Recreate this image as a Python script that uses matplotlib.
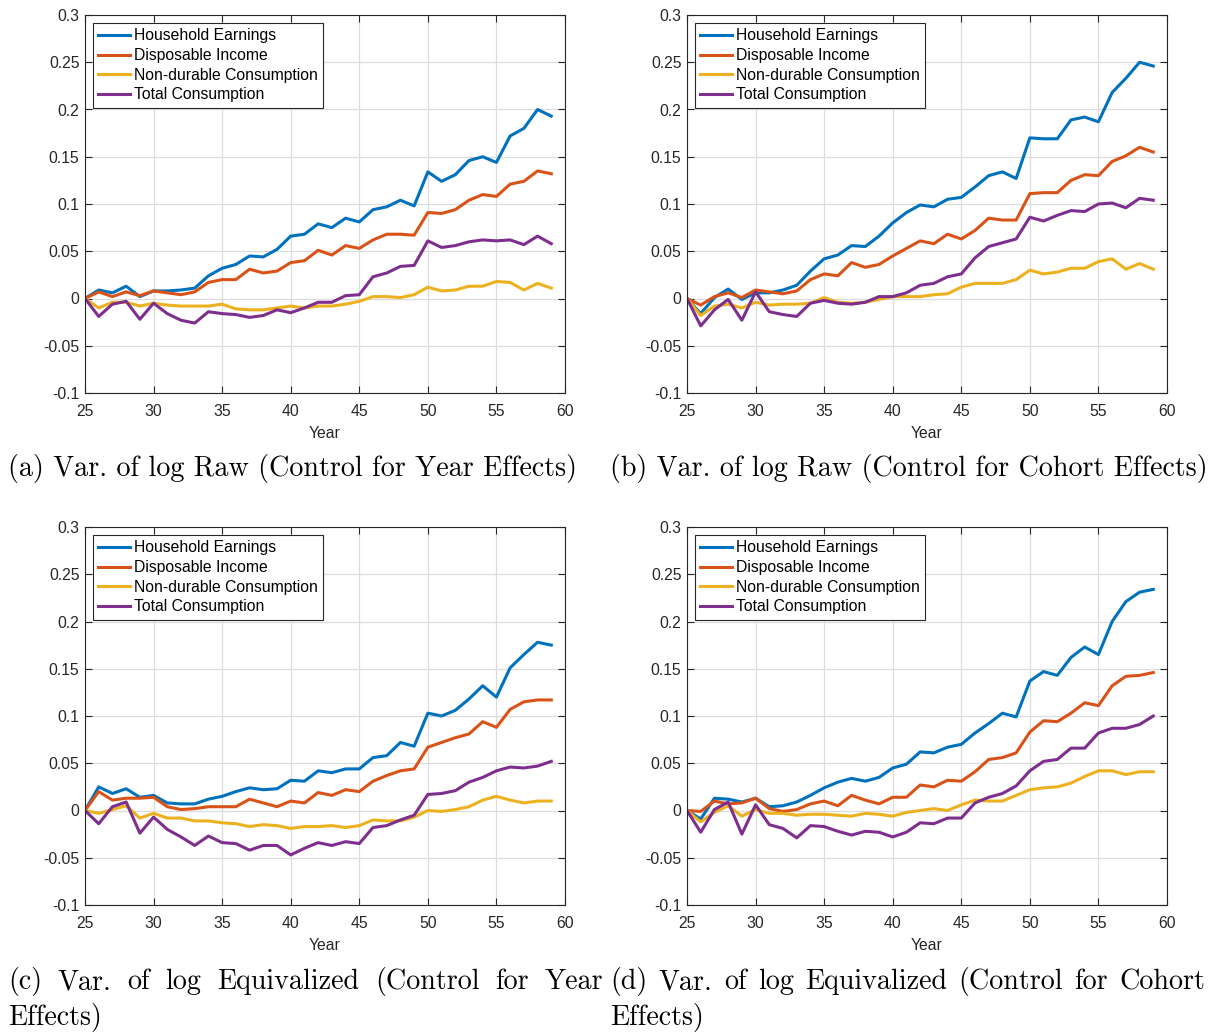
import matplotlib
matplotlib.use("Agg")
import matplotlib.pyplot as plt
import numpy as np

plt.rcParams['font.family'] = ['Liberation Sans', 'DejaVu Sans']
plt.rcParams['axes.unicode_minus'] = False

# age axis
years = np.arange(25, 60)

labels = ["Household Earnings", "Disposable Income", "Non-durable Consumption", "Total Consumption"]
colors = ['#0072BD', '#D95319', '#EDB120', '#7E2F8E']

# (a) raw, year effects
a_earn = [0, 0.009, 0.006, 0.013, 0.002, 0.008, 0.008, 0.009, 0.011, 0.024, 0.032, 0.036, 0.045, 0.044, 0.052,
          0.066, 0.068, 0.079, 0.075, 0.085, 0.081, 0.094, 0.097, 0.104, 0.098, 0.134, 0.124, 0.131, 0.146, 0.150,
          0.144, 0.172, 0.180, 0.200, 0.193]
a_disp = [0, 0.007, 0.002, 0.007, 0.003, 0.008, 0.006, 0.004, 0.007, 0.017, 0.020, 0.020, 0.031, 0.027, 0.029,
          0.038, 0.040, 0.051, 0.046, 0.056, 0.053, 0.062, 0.068, 0.068, 0.067, 0.091, 0.090, 0.094, 0.104, 0.110,
          0.108, 0.121, 0.124, 0.135, 0.132]
a_ndur = [0, -0.010, -0.004, -0.004, -0.008, -0.005, -0.007, -0.008, -0.008, -0.008, -0.006, -0.011, -0.012,
          -0.012, -0.010, -0.008, -0.010, -0.008, -0.008, -0.006, -0.003, 0.002, 0.002, 0.001, 0.004, 0.012, 0.008,
          0.009, 0.013, 0.013, 0.018, 0.017, 0.009, 0.016, 0.011]
a_tot = [0, -0.019, -0.006, -0.003, -0.022, -0.005, -0.016, -0.023, -0.026, -0.014, -0.016, -0.017, -0.020,
         -0.018, -0.012, -0.015, -0.010, -0.004, -0.004, 0.003, 0.004, 0.023, 0.027, 0.034, 0.035, 0.061, 0.054,
         0.056, 0.060, 0.062, 0.061, 0.062, 0.057, 0.066, 0.058]

# (b) raw, cohort effects
b_earn = [0, -0.016, 0.001, 0.010, -0.001, 0.006, 0.006, 0.009, 0.014, 0.029, 0.042, 0.046, 0.056, 0.055, 0.066,
          0.080, 0.091, 0.099, 0.097, 0.105, 0.107, 0.118, 0.130, 0.134, 0.127, 0.170, 0.169, 0.169, 0.189, 0.192,
          0.187, 0.218, 0.233, 0.250, 0.246]
b_disp = [0, -0.007, 0.002, 0.006, 0.001, 0.009, 0.007, 0.005, 0.008, 0.020, 0.026, 0.024, 0.038, 0.033, 0.036,
          0.045, 0.053, 0.061, 0.058, 0.068, 0.063, 0.072, 0.085, 0.083, 0.083, 0.111, 0.112, 0.112, 0.125, 0.131,
          0.130, 0.145, 0.151, 0.160, 0.155]
b_ndur = [0, -0.018, -0.008, -0.006, -0.010, -0.004, -0.007, -0.006, -0.006, -0.005, 0.001, -0.004, -0.005,
          -0.004, -0.001, 0.002, 0.002, 0.002, 0.004, 0.005, 0.012, 0.016, 0.016, 0.016, 0.020, 0.030, 0.026,
          0.028, 0.032, 0.032, 0.039, 0.042, 0.031, 0.037, 0.031]
b_tot = [0, -0.029, -0.012, -0.001, -0.023, 0.007, -0.014, -0.017, -0.019, -0.005, -0.002, -0.005, -0.006,
         -0.004, 0.002, 0.002, 0.006, 0.014, 0.016, 0.023, 0.026, 0.043, 0.055, 0.059, 0.063, 0.086, 0.082,
         0.088, 0.093, 0.092, 0.100, 0.101, 0.096, 0.106, 0.104]

# (c) equivalized, year effects
c_earn = [0, 0.025, 0.018, 0.023, 0.014, 0.016, 0.008, 0.007, 0.007, 0.012, 0.015, 0.020, 0.024, 0.022, 0.023,
          0.032, 0.031, 0.042, 0.040, 0.044, 0.044, 0.056, 0.058, 0.072, 0.068, 0.103, 0.100, 0.106, 0.118, 0.132,
          0.120, 0.151, 0.165, 0.178, 0.175]
c_disp = [0, 0.020, 0.011, 0.013, 0.013, 0.014, 0.004, 0.001, 0.002, 0.004, 0.004, 0.004, 0.012, 0.008, 0.004,
          0.010, 0.008, 0.019, 0.016, 0.022, 0.020, 0.031, 0.037, 0.042, 0.044, 0.067, 0.072, 0.077, 0.081, 0.094,
          0.088, 0.107, 0.115, 0.117, 0.117]
c_ndur = [0, -0.003, 0.001, 0.005, -0.008, -0.003, -0.008, -0.008, -0.011, -0.011, -0.013, -0.014, -0.017,
          -0.015, -0.016, -0.019, -0.017, -0.017, -0.016, -0.018, -0.016, -0.010, -0.011, -0.011, -0.007, 0.000,
          -0.001, 0.001, 0.004, 0.011, 0.015, 0.011, 0.008, 0.010, 0.010]
c_tot = [0, -0.014, 0.004, 0.009, -0.024, -0.007, -0.020, -0.028, -0.037, -0.027, -0.034, -0.035, -0.042,
         -0.037, -0.037, -0.047, -0.040, -0.034, -0.037, -0.033, -0.035, -0.018, -0.016, -0.010, -0.005, 0.017,
         0.018, 0.021, 0.030, 0.035, 0.042, 0.046, 0.045, 0.047, 0.052]

# (d) equivalized, cohort effects
d_earn = [0, -0.009, 0.013, 0.012, 0.009, 0.013, 0.004, 0.005, 0.009, 0.016, 0.024, 0.030, 0.034, 0.031, 0.035,
          0.045, 0.049, 0.062, 0.061, 0.067, 0.070, 0.082, 0.092, 0.103, 0.099, 0.137, 0.147, 0.143, 0.162, 0.173,
          0.165, 0.200, 0.221, 0.231, 0.234]
d_disp = [0, -0.001, 0.010, 0.007, 0.008, 0.013, 0.002, -0.001, 0.001, 0.007, 0.010, 0.005, 0.016, 0.011, 0.007,
          0.014, 0.014, 0.027, 0.025, 0.032, 0.031, 0.041, 0.054, 0.056, 0.061, 0.083, 0.095, 0.094, 0.103, 0.114,
          0.111, 0.132, 0.142, 0.143, 0.146]
d_ndur = [0, -0.012, -0.002, 0.005, -0.006, 0.001, -0.003, -0.003, -0.005, -0.004, -0.004, -0.005, -0.006,
          -0.003, -0.004, -0.006, -0.002, 0.000, 0.002, 0.000, 0.006, 0.011, 0.010, 0.010, 0.016, 0.022, 0.024,
          0.025, 0.029, 0.036, 0.042, 0.042, 0.038, 0.041, 0.041]
d_tot = [0, -0.023, 0.001, 0.009, -0.025, 0.006, -0.015, -0.019, -0.029, -0.016, -0.017, -0.022, -0.026,
         -0.022, -0.023, -0.028, -0.023, -0.013, -0.014, -0.008, -0.008, 0.008, 0.014, 0.018, 0.026, 0.042, 0.052,
         0.054, 0.066, 0.066, 0.082, 0.087, 0.087, 0.091, 0.100]

captions_top = ["(a) Var. of log Raw (Control for Year Effects)",
                "(b) Var. of log Raw (Control for Cohort Effects)"]
captions_bot = [["(c) Var. of log Equivalized (Control for Year", "Effects)"],
                ["(d) Var. of log Equivalized (Control for Cohort", "Effects)"]]

panels = [
    (a_earn, a_disp, a_ndur, a_tot),
    (b_earn, b_disp, b_ndur, b_tot),
    (c_earn, c_disp, c_ndur, c_tot),
    (d_earn, d_disp, d_ndur, d_tot),
]

W, H = 1217, 1032
fig = plt.figure(figsize=(W / 100, H / 100), dpi=100)

# axes boxes in pixels: left, top
boxes = [(85, 15), (687, 15), (85, 527), (687, 527)]
aw, ah = 480, 378

ink = '#262626'
fs = 11.3
for (x0, y0), series in zip(boxes, panels):
    ax = fig.add_axes([x0 / W, 1 - (y0 + ah) / H, aw / W, ah / H])
    for s, c, lab in zip(series, colors, labels):
        ax.plot(years, s, color=c, lw=2.2, label=lab)
    ax.set_xlim(25, 60)
    ax.set_ylim(-0.1, 0.3)
    ax.set_xticks(np.arange(25, 61, 5))
    ax.set_yticks(np.arange(-0.1, 0.301, 0.05))
    ax.set_yticklabels(['-0.1', '-0.05', '0', '0.05', '0.1', '0.15', '0.2', '0.25', '0.3'])
    ax.grid(True, color='#dcdcdc', lw=0.9)
    ax.set_axisbelow(True)
    ax.tick_params(direction='in', top=True, right=True, length=5, width=0.8,
                   colors=ink, labelsize=fs, labelcolor=ink)
    ax.tick_params(axis='x', pad=8)
    ax.tick_params(axis='y', pad=4)
    for sp in ax.spines.values():
        sp.set_color(ink)
        sp.set_linewidth(0.8)
    ax.set_xlabel('Year', fontsize=fs, color=ink, labelpad=5)
    leg = ax.legend(loc='upper left', fontsize=fs, frameon=True, fancybox=False,
                    edgecolor=ink, framealpha=1, borderpad=0.35, labelspacing=0.3,
                    handlelength=2.0, handletextpad=0.25, borderaxespad=0.5)
    leg.get_frame().set_linewidth(0.8)

serif = 'cmr10'
cap_size = 20.2

fig.text(8 / W, 1 - 469 / H, captions_top[0], family=serif, fontsize=cap_size, va='center', ha='left')
fig.text(610 / W, 1 - 469 / H, captions_top[1], family=serif, fontsize=cap_size, va='center', ha='left')

# justified first lines for (c) and (d)
renderer = fig.canvas.get_renderer()
for (line1, line2), xl, xr in zip(captions_bot, [8, 610], [603, 1205]):
    words = line1.split(' ')
    widths = []
    for w_ in words:
        t = fig.text(0, 0, w_, family=serif, fontsize=cap_size)
        widths.append(t.get_window_extent(renderer).width)
        t.remove()
    gap = (xr - xl - sum(widths)) / (len(words) - 1)
    x = xl
    for w_, wd in zip(words, widths):
        fig.text(x / W, 1 - 982 / H, w_, family=serif, fontsize=cap_size, va='center', ha='left')
        x += wd + gap
    fig.text(xl / W, 1 - 1017 / H, line2, family=serif, fontsize=cap_size, va='center', ha='left')

fig.savefig('out.png', dpi=100)
